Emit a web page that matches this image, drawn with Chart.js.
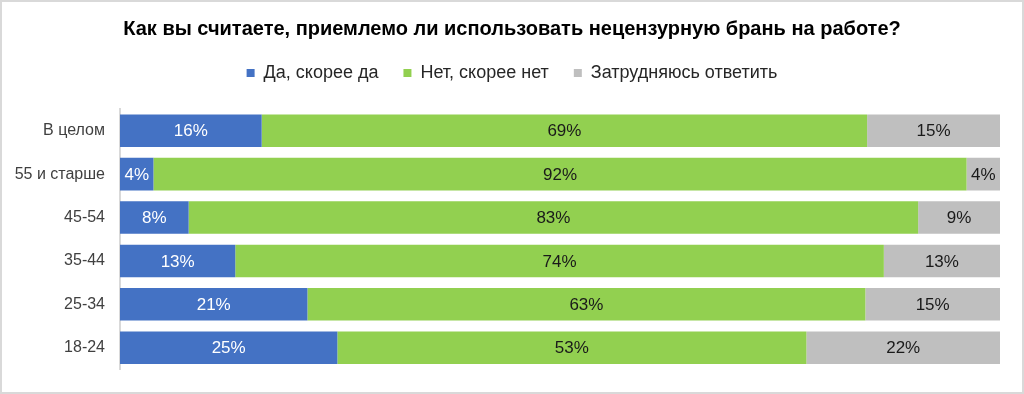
<!DOCTYPE html>
<html>
<head>
<meta charset="utf-8">
<script src="https://cdn.jsdelivr.net/npm/chart.js@4"></script>
<style>
  body{margin:0;background:#fff;}
  #wrap{position:relative;width:1024px;height:394px;}
  #frame{position:absolute;left:0;top:0;width:1024px;height:394px;box-sizing:border-box;border:2px solid #d9d9d9;pointer-events:none;}
</style>
</head>
<body>
<div id="wrap">
  <canvas id="c" width="1024" height="394"></canvas>
  <div id="frame"></div>
</div>
<script>
const TITLE = 'Как вы считаете, приемлемо ли использовать нецензурную брань на работе?';
const CATEGORIES = ['В целом','55 и старше','45-54','35-44','25-34','18-24'];
const SERIES_NAMES = ['Да, скорее да','Нет, скорее нет','Затрудняюсь ответить'];
// shares in %; labels show rounded values
const YES = [16.1, 3.8, 7.8, 13.1, 21.3, 24.7];
const NO = [68.8, 92.4, 82.9, 73.7, 63.4, 53.3];
const HARD = [15.1, 3.8, 9.3, 13.2, 15.3, 22.0];
const COLORS = ['#4472C4','#92D050','#BFBFBF'];
const LABEL_COLORS = ['#ffffff','#1a1a1a','#1a1a1a'];

const FONT = "'Liberation Sans', Arial, sans-serif";

// value labels in the middle of each segment
const barLabels = {
  id:'barLabels',
  afterDatasetsDraw(chart){
    const ctx = chart.ctx;
    ctx.save();
    ctx.font = '17px ' + FONT;
    ctx.textAlign = 'center';
    ctx.textBaseline = 'middle';
    chart.data.datasets.forEach((ds,di)=>{
      const meta = chart.getDatasetMeta(di);
      meta.data.forEach((el,i)=>{
        const x = (el.x + el.base)/2;
        ctx.fillStyle = LABEL_COLORS[di];
        ctx.fillText(Math.round(ds.data[i]) + '%', x, el.y + 1);
      });
    });
    ctx.restore();
  }
};

new Chart(document.getElementById('c'), {
  type:'bar',
  data:{
    labels: CATEGORIES,
    datasets:[
      {label:SERIES_NAMES[0], data:YES, backgroundColor:COLORS[0]},
      {label:SERIES_NAMES[1], data:NO, backgroundColor:COLORS[1]},
      {label:SERIES_NAMES[2], data:HARD, backgroundColor:COLORS[2]}
    ]
  },
  options:{
    indexAxis:'y',
    responsive:false,
    animation:false,
    layout:{padding:{left:0,right:0,top:0,bottom:22}},
    datasets:{bar:{barPercentage:0.75,categoryPercentage:1,borderWidth:0}},
    scales:{
      x:{stacked:true,min:0,max:100,display:false},
      y:{
        stacked:true,
        grid:{display:false,drawTicks:false},
        border:{display:true,color:'#d9d9d9',width:2},
        ticks:{font:{family:FONT,size:16},color:'#404040',padding:15},
        afterFit(scale){ scale.width = 120; }
      },
      // empty right margin so title and legend stay centred on the page
      yRight:{
        position:'right',
        grid:{display:false,drawTicks:false},
        border:{display:false},
        ticks:{display:false},
        afterFit(scale){ scale.width = 24; }
      }
    },
    plugins:{
      title:{display:true,text:TITLE,color:'#000',font:{family:FONT,size:20,weight:'bold',lineHeight:1},padding:{top:19,bottom:0}},
      // empty spacer between legend and bars
      subtitle:{display:true,text:'',weight:500,font:{size:10,lineHeight:1},padding:{top:7,bottom:0}},
      legend:{
        position:'top',
        labels:{font:{family:FONT,size:18},color:'#262626',boxWidth:8,boxHeight:8,padding:25}
      },
      tooltip:{enabled:false}
    }
  },
  plugins:[barLabels]
});
</script>
</body>
</html>
